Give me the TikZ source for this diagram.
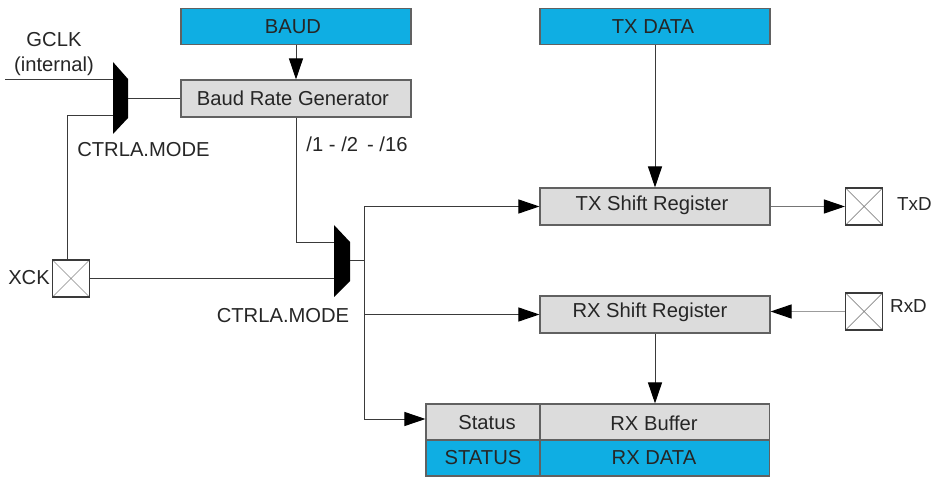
\documentclass[tikz,border=0pt]{standalone}
\usepackage{fontspec}
\setmainfont{Liberation Sans}
\usetikzlibrary{arrows.meta}
\definecolor{regblue}{HTML}{0FAEE3}
\definecolor{reggray}{HTML}{DCDCDC}
\definecolor{wire}{HTML}{3A3A3A}
\definecolor{txt}{HTML}{262626}
\definecolor{regtxt}{HTML}{12304F}
\tikzset{
  x=1pt,y=-1pt,
  every node/.style={font=\fontsize{20.2}{25}\selectfont,text=txt,inner sep=0pt,align=center},
  padlabel/.style={font=\fontsize{18.8}{22}\selectfont},
  box/.style={draw=wire!80,line width=1.1pt,minimum width=#1,anchor=center},
  graybox/.style={box=#1,fill=reggray,minimum height=37},
  bluebox/.style={box=#1,fill=regblue,minimum height=36,text=regtxt},
  pad/.style={draw=wire,line width=1.1pt,fill=white,minimum width=37,minimum height=37,
    path picture={\draw[line width=0.7pt,wire!60] (path picture bounding box.north west)--(path picture bounding box.south east)
    (path picture bounding box.north east)--(path picture bounding box.south west);}},
  conn/.style={draw=wire,line width=1pt},
  arr/.style={conn,-{Triangle[length=21,width=14,color=black]}},
  mux/.style={fill=black,draw=none}
}
\begin{document}
\begin{tikzpicture}
\useasboundingbox (0,0) rectangle (932,478);
% registers
\node[bluebox=230] (baud) at (296,26.5) {};
\node at (293,27) {BAUD};
\node[graybox=230] (brg) at (296,98.5) {};
\node at (293,98) {Baud Rate Generator};
\node[bluebox=230] (txdata) at (655,26.5) {};
\node at (653,27) {TX DATA};
\node[graybox=230] (txsr) at (655,206.5) {};
\node at (652,205) {TX Shift Register};
\node[graybox=230] (rxsr) at (655,314.5) {};
\node at (650,312) {RX Shift Register};
\node[graybox=114,minimum height=36] (status) at (483,422) {};
\node at (487,423) {Status};
\node[graybox=229,minimum height=36] (rxbuf) at (655,422) {};
\node at (654,423) {RX Buffer};
\node[bluebox=114] (statusreg) at (483,458) {};
\node at (483,458) {STATUS};
\node[bluebox=229] (rxdata) at (655,458) {};
\node at (654,458) {RX DATA};
% pads
\node[pad] (xck) at (71,278.5) {};
\node[pad] (txd) at (864,206.5) {};
\node[pad] (rxd) at (864,311.5) {};
% muxes
\fill[mux] (113,62) -- (128,79) -- (128,118) -- (113,134) -- cycle;
\fill[mux] (334,225) -- (350,242) -- (350,281) -- (334,297) -- cycle;
\coordinate (muxa1) at (113,80);
\coordinate (muxa2) at (113,116);
\coordinate (muxao) at (128,99);
\coordinate (muxb1) at (334,243);
\coordinate (muxb2) at (334,278.5);
\coordinate (muxbo) at (350,261);
\coordinate (gclk) at (5,80);
\coordinate (bus) at (364,261);
% labels
\node (gclklbl) at (54,54) {GCLK\\(internal)};
\node at (143.5,150) {CTRLA.MODE};
\node at (283,316) {CTRLA.MODE};
\node at (357,144) {/1 - /2\, - /16};
\node[anchor=east] at (50,278) {XCK};
\node[padlabel,anchor=west] at (897,204) {TxD};
\node[padlabel,anchor=west] at (890,306) {RxD};
% connectors
\draw[conn] (gclk) -- (muxa1);
\draw[conn] (muxao) -- (brg.west |- muxao);
\draw[conn] (xck.north -| 67,0) -- (67,116) -- (muxa2);
\draw[conn] (brg.south) -- (296,243) -- (muxb1);
\draw[conn] (xck.east) -- (muxb2);
\draw[conn] (muxbo) -- (bus);
\draw[arr] (baud.south) -- (brg.north);
\draw[arr] (txdata.south) -- (txsr.north);
\draw[arr] (bus) -- (364,206.5) -- (txsr.west);
\draw[arr] (bus) -- (364,314.5) -- (rxsr.west);
\draw[arr] (bus) -- (364,419) -- (status.west |- 0,419);
\draw[arr,draw=wire!70] (txsr.east) -- (txd.west);
\draw[arr,draw=wire!50] (rxd.west) -- (rxsr.east |- rxd.west);
\draw[arr] (rxsr.south) -- (rxbuf.north);
\end{tikzpicture}
\end{document}
